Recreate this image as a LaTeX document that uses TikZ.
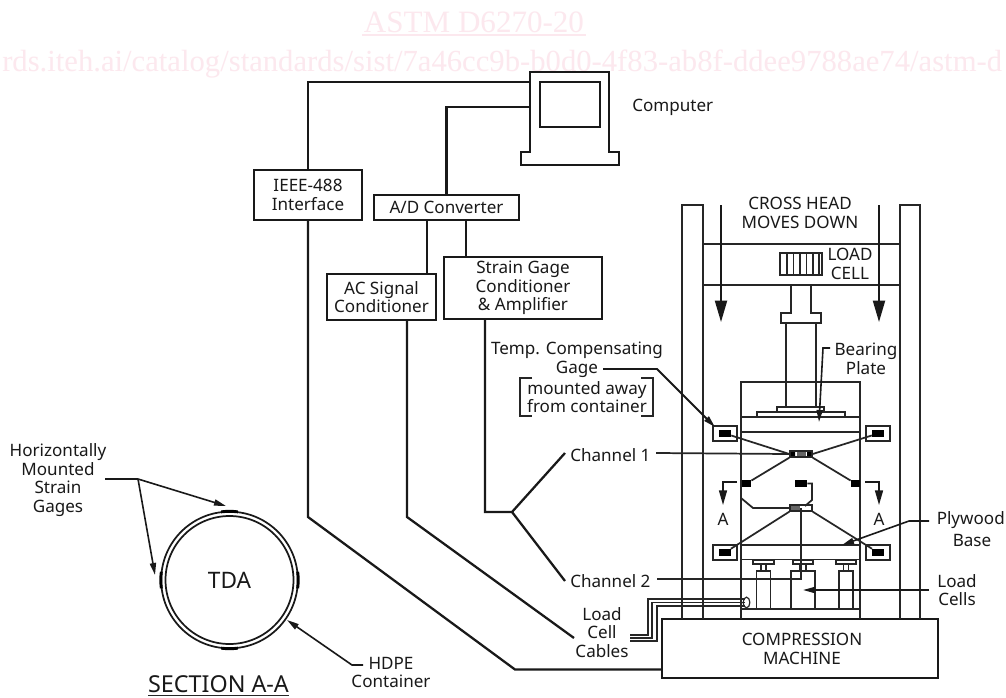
\documentclass[tikz,border=0pt]{standalone}
\usepackage{fontspec}
\setmainfont{Noto Sans}
\newfontfamily\wmfont{Liberation Serif}
\usetikzlibrary{arrows.meta,shapes.geometric}
\newcommand{\lblfont}{\fontsize{12.8pt}{13.9pt}\selectfont}
\definecolor{wmpink}{HTML}{FCE8EE}
\tikzset{
  x=0.75pt,y=-0.75pt,
  wire/.style={line width=1.7pt,draw=black!90,line join=miter},
  mech/.style={line width=1.35pt,draw=black!85},
  thin wire/.style={line width=1pt,draw=black!85},
  leader/.style={line width=1.2pt,draw=black!90,-{Triangle[length=9pt,width=4.6pt]}},
  plain leader/.style={line width=1.2pt,draw=black!90},
  bigarrow/.style={line width=1.4pt,draw=black!90,-{Triangle[length=16pt,width=9pt]}},
  secarrow/.style={line width=1.2pt,draw=black!90,-{Triangle[length=11pt,width=6pt]}},
  box/.style={draw=black!90,line width=1.4pt,fill=white,inner sep=0pt,align=center,font=\lblfont,text=black!90},
  lbl/.style={inner sep=0pt,align=center,font=\lblfont,text=black!90},
  gaugebox/.style={draw=black!85,line width=1.2pt,fill=white,minimum width=18pt,minimum height=11.2pt,inner sep=0pt},
  gaugecore/.style={fill=black,inner sep=0pt,minimum width=9pt,minimum height=5.2pt},
  strain/.style={fill=black,inner sep=0pt,minimum width=7pt,minimum height=5.2pt},
  bridge/.style={draw=black!85,line width=1pt,fill=white,minimum width=16.5pt,minimum height=4.5pt,inner sep=0pt},
  wm/.style={text=wmpink,inner sep=0pt},
}
\begin{document}
\begin{tikzpicture}
\useasboundingbox (0,0) rectangle (1006,697);
\fill[white] (0,0) rectangle (1006,697);
% watermark
\node[wm,font=\wmfont\fontsize{23.3pt}{26pt}\selectfont] (wm1) at (474,22) {ASTM D6270-20};
\fill[wmpink] (362,33.6) rectangle (586,36.4);
\node[wm,font=\wmfont\fontsize{23pt}{26pt}\selectfont,anchor=base west] (wm2) at (2,71) {rds.iteh.ai/catalog/standards/sist/7a46cc9b-b0d0-4f83-ab8f-ddee9788ae74/astm-d};

% computer
\node[draw=black!90,line width=1.4pt,minimum width=59.25pt,minimum height=60pt,inner sep=0pt] (computer) at (569.5,112) {};
\node[draw=black!90,line width=1.4pt,minimum width=45pt,minimum height=33.75pt,inner sep=0pt] (screen) at (570,104.5) {};
\node[draw=black!90,line width=1.4pt,fill=white,minimum width=73.5pt,minimum height=9.75pt,inner sep=0pt] (kbd) at (570,158.5) {};
\fill[white] (531,150) rectangle (608,153.5);
\draw[line width=1.4pt,draw=black!90] (530,152.5) -- (530,146) (609,152.5) -- (609,146);
\node[lbl,anchor=west] (computerlbl) at (632,107) {Computer};

% blocks
\node[box,minimum width=81pt,minimum height=37.5pt] (ieee) at (308,195) {IEEE-488\\Interface};
\node[box,minimum width=108.75pt,minimum height=18.75pt] (ad) at (446.5,207.5) {A/D Converter};
\node[box,minimum width=81.75pt,minimum height=34.5pt] (ac) at (381.5,297) {AC Signal\\Conditioner};
\node[box,minimum width=118.5pt,minimum height=46.5pt] (sg) at (523,288) {Strain Gage\\Conditioner\\\& Amplifier};

\coordinate (cIeee) at (530,82);
\coordinate (cAd) at (530,107);
\draw[wire] (cIeee) -| (ieee.north);
\draw[wire] (cAd) -| (ad.north);
\coordinate (adL) at (427,220); \coordinate (acT) at (427,274);
\coordinate (adR) at (466,220); \coordinate (sgT) at (466,257);
\draw[wire] (adL) -- (acT);
\draw[wire] (adR) -- (sgT);
% long wires
\node[draw=black!90,line width=1.4pt,minimum width=207pt,minimum height=44.25pt,inner sep=0pt] (machine) at (800,648.5) {};
\node[lbl] (machinelbl) at (802,649) {COMPRESSION\\MACHINE};
\coordinate (i1) at (308,517); \coordinate (i2) at (515,669.5); \coordinate (i3) at (662,669.5);
\draw[wire] (ieee.south) -- (i1) -- (i2) -- (i3);
\coordinate (a0) at (407,320); \coordinate (a1) at (407,517); \coordinate (a2) at (574,638);
\draw[wire] (a0) -- (a1) -- (a2);
\coordinate (s0) at (485,319); \coordinate (s1) at (485,512); \coordinate (s2) at (512,512);
\coordinate (ch1) at (565,453); \coordinate (ch2) at (565,581);
\draw[wire] (s0) -- (s1) -- (s2) -- (ch1);
\draw[wire] (s2) -- (ch2);
\node[lbl,anchor=west] (ch1lbl) at (570,455) {Channel 1};
\node[lbl,anchor=west] (ch2lbl) at (570,581) {Channel 2};
\node[lbl] (tclbl) at (577,359.5) {Temp. Compensating\\Gage};
\node[lbl] (awaylbl) at (587,397) {mounted away\\from container};
\draw[mech,line width=1.2pt] (532,378) -- (520,378) -- (520,416) -- (532,416);
\draw[mech,line width=1.2pt] (641,378) -- (653,378) -- (653,416) -- (641,416);
\node[lbl] (cableslbl) at (602,632.5) {Load\\Cell\\Cables};

% frame
\draw[mech] (703,619) -- (703,205) -- (682,205) -- (682,619);
\draw[mech] (900,619) -- (900,205) -- (920,205) -- (920,619);
\draw[mech] (703,244) -- (900,244) (703,285) -- (900,285);
\node[lbl] (crosslbl) at (800,213) {CROSS HEAD\\MOVES DOWN};
\node[lbl] (loadlbl) at (850,264) {LOAD\\CELL};
\coordinate (aL0) at (721,205); \coordinate (aL1) at (721,322);
\coordinate (aR0) at (879,205); \coordinate (aR1) at (879,322);
\draw[bigarrow] (aL0) -- (aL1);
\draw[bigarrow] (aR0) -- (aR1);
% load cell
\node[draw=black!85,line width=1pt,minimum width=31.5pt,minimum height=16.5pt,inner sep=0pt] (lc) at (801,264) {};
\foreach \xx in {787,793.5,800,806.5,813,819}{\draw[line width=.8pt,black!85] (\xx,253) -- (\xx,275);}
% ram
\draw[mech] (791,285) -- (791,313) -- (781,313) -- (781,323) -- (821,323) -- (821,313) -- (811,313) -- (811,285);
\draw[mech] (786,323) -- (786,407);
\draw[mech] (816,323) -- (816,407);
% container
\draw[mech] (741,619) -- (741,382) -- (860,382) -- (860,619);
\draw[mech] (741,417) -- (860,417) (741,432) -- (860,432);
\draw[mech,line width=1.1pt] (757,417) -- (757,412) -- (845,412) -- (845,417);
\draw[mech,line width=1.1pt] (777,412) -- (777,407) -- (824,407) -- (824,412);
\node[lbl] (bearlbl) at (866,359) {Bearing\\Plate};
\coordinate (b0) at (830,348); \coordinate (b1) at (823,348); \coordinate (b2) at (819,422);
\draw[leader] (b0) -- (b1) -- (b2);

% gauges
\node[gaugebox] (g1) at (725,433.5) {}; \node[gaugecore] (g1c) at (725,433.5) {};
\node[gaugebox] (g2) at (878,433.5) {}; \node[gaugecore] (g2c) at (878,433.5) {};
\node[gaugebox] (g3) at (725,552.5) {}; \node[gaugecore] (g3c) at (725,552.5) {};
\node[gaugebox] (g4) at (878,552.5) {}; \node[gaugecore] (g4c) at (878,552.5) {};
\node[bridge] (br1) at (801,454) {};
\node[bridge] (br2) at (801,508) {};
\fill[black!60] (797,452) rectangle (806,456);
\fill[black] (791,452) rectangle (795,456) (807,452) rectangle (811,456);
\fill[black!60] (791,506) rectangle (800,510);
\node[strain] (s1g) at (746.5,483.5) {};
\node[strain] (s2g) at (855.5,483.5) {};
\node[strain,minimum width=9pt] (s3g) at (801,483.5) {};
\draw[thin wire,line width=1.3pt] (g1c) -- (br1.west);
\draw[thin wire,line width=1.3pt] (g2c) -- (br1.east);
\draw[thin wire,line width=1.3pt] (br1.south west) -- (s1g);
\draw[thin wire,line width=1.3pt] (br1.south east) -- (s2g);
\draw[thin wire,line width=1.3pt] (br2.south west) -- (g3c);
\draw[thin wire,line width=1.3pt] (br2.south east) -- (g4c);
\coordinate (w1) at (741,498); \coordinate (w2) at (753,508);
\draw[thin wire,line width=1.3pt] (w1) -- (w2) -- (br2.west);
\coordinate (w3) at (812,483.5); \coordinate (w4) at (812,500); \coordinate (w5) at (805,506);
\draw[thin wire,line width=1.3pt] (s3g) -- (w3) -- (w4) -- (w5);
\coordinate (ch2v) at (801,579); \coordinate (ch2s) at (657,579);
\draw[thin wire,line width=1.3pt] (br2.center) -- (ch2v) -- (ch2s);
\coordinate (ch1s) at (656,453);
\draw[thin wire,line width=1.3pt] (ch1s) -- (br1.west);
% temp leader
\coordinate (t0) at (603,369); \coordinate (t1) at (657,369); \coordinate (t2) at (715,427);
\draw[leader,line width=1.4pt] (t0) -- (t1) -- (t2);

% section arrows
\coordinate (sa0) at (737,482); \coordinate (sa1) at (723,482); \coordinate (sa2) at (723,505);
\coordinate (sb0) at (865,482); \coordinate (sb1) at (879,482); \coordinate (sb2) at (879,505);
\draw[secarrow] (sa0) -- (sa1) -- (sa2);
\draw[secarrow] (sb0) -- (sb1) -- (sb2);
\node[lbl] (alblL) at (723,519) {A};
\node[lbl] (alblR) at (879,519) {A};

% base and load cells
\draw[mech] (741,545) -- (860,545) (741,559.5) -- (860,559.5) (741,609) -- (860,609);
\foreach \nm/\cx/\bw/\stem/\cap in {cA/763.5/14/5/21,cB/803/24/6/20,cC/846/14/5/20}{
  \node[draw=black!85,line width=.9pt,minimum width=\cap*0.75pt,minimum height=3pt,inner sep=0pt] (\nm cap) at (\cx,562) {};
  \node[draw=black!85,line width=.9pt,minimum width=\stem*0.75pt,minimum height=5.2pt,inner sep=0pt] (\nm st) at (\cx,567.5) {};
  \node[draw=black!85,line width=1.2pt,minimum width=\bw*0.75pt,minimum height=28.5pt,inner sep=0pt] (\nm) at (\cx,590) {};
}
% plywood leader
\node[lbl,anchor=north east] (plylbl) at (1005,511) {Plywood};
\node[lbl] (baselbl) at (972,540) {Base};
\coordinate (p0) at (929,521); \coordinate (p1) at (909,521); \coordinate (p2) at (842,545);
\draw[leader] (p0) -- (p1) -- (p2);
% load cells leader
\node[lbl] (cellslbl) at (957,590) {Load\\Cells};
\coordinate (lc0) at (929,590);
\draw[leader] (lc0) -- (cB.center);

% cables
\node[draw=black!85,line width=.9pt,ellipse,minimum width=5pt,minimum height=8pt,inner sep=0pt] (cabend) at (746.5,602.5) {};
\foreach \yt/\xv/\yb in {599/648/635,602.5/652/638,606/657/641}{
  \draw[thin wire] (745,\yt) -- (\xv,\yt) -- (\xv,\yb) -- (630,\yb);
}

% section A-A
\node[draw=black!90,line width=1.3pt,circle,minimum size=102.5pt,inner sep=0pt,font=\fontsize{17pt}{20pt}\selectfont,text=black!90] (tda) at (229.5,580) {TDA};
\draw[line width=1.3pt,black!90] (tda.center) circle (48pt);
\foreach \a in {0,90,180,270}{
  \draw[line width=2.2pt,black] ([shift={(\a-7:51.5pt)}]tda.center) arc[start angle=\a-7,end angle=\a+7,radius=51.5pt];
}
\node[lbl] (hlbl) at (58,480) {Horizontally\\Mounted\\Strain\\Gages};
\coordinate (h0) at (105,479); \coordinate (h1) at (138,479);
\coordinate (h2) at (226,506); \coordinate (h3) at (155,575);
\draw[plain leader] (h0) -- (h1);
\draw[leader] (h1) -- (h2);
\draw[leader] (h1) -- (h3);
\node[lbl] (hdpelbl) at (391,672.5) {HDPE\\Container};
\coordinate (d0) at (363,665); \coordinate (d1) at (352,665); \coordinate (d2) at (287,620);
\draw[leader] (d0) -- (d1) -- (d2);
\node[lbl,font=\fontsize{17.5pt}{18pt}\selectfont,anchor=base] (seclbl) at (218.5,692) {SECTION A-A};
\draw[line width=1.1pt,black!85] (148,695.5) -- (289,695.5);
\end{tikzpicture}
\end{document}
